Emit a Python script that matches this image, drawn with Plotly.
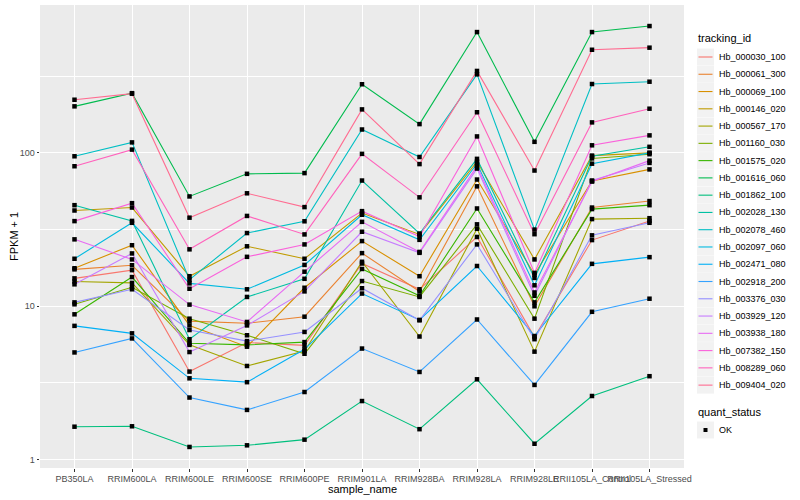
import plotly.graph_objects as go
import numpy as np

samples = ["PB350LA", "RRIM600LA", "RRIM600LE", "RRIM600SE", "RRIM600PE",
           "RRIM901LA", "RRIM928BA", "RRIM928LA", "RRIM928LE",
           "RRII105LA_Control", "RRII105LA_Stressed"]

tracking_ids = ["Hb_000030_100", "Hb_000061_300", "Hb_000069_100", "Hb_000146_020",
                "Hb_000567_170", "Hb_001160_030", "Hb_001575_020", "Hb_001616_060",
                "Hb_001862_100", "Hb_002028_130", "Hb_002078_460", "Hb_002097_060",
                "Hb_002471_080", "Hb_002918_200", "Hb_003376_030", "Hb_003929_120",
                "Hb_003938_180", "Hb_007382_150", "Hb_008289_060", "Hb_009404_020"]

# FPKM + 1 values per gene, in sample order
hb_000030_100 = [15.2, 17.2, 3.75, 5.8, 5.56, 19.0, 12.9, 28.3, 6.3, 27, 36]
hb_000061_300 = [17.4, 18.5, 8.0, 7.75, 8.55, 22.2, 12.5, 60.5, 10.0, 44, 48.5]
hb_000069_100 = [17.7, 25, 7.5, 5.45, 13.2, 26.6, 15.7, 67, 16.1, 65.5, 78]
hb_000146_020 = [42.1, 44, 15.7, 24.6, 20.4, 40.5, 29.4, 87.6, 20.2, 96, 100]
hb_000567_170 = [14.5, 14.2, 5.6, 4.08, 5.1, 19.5, 6.35, 32, 5.06, 37, 37.5]
hb_001160_030 = [10.3, 13.3, 8.3, 6.47, 4.9, 14.6, 11.5, 34.2, 8.3, 92, 98]
hb_001575_020 = [8.86, 15.5, 5.74, 5.6, 5.84, 17.5, 11.7, 43.4, 10.6, 43, 45.6]
hb_001616_060 = [201, 245, 52, 73, 73.8, 280, 154, 613, 118, 613, 671]
hb_001862_100 = [1.64, 1.65, 1.21, 1.24, 1.35, 2.41, 1.58, 3.34, 1.27, 2.6, 3.5]
hb_002028_130 = [45.6, 36, 6.1, 11.5, 15.1, 66, 29.8, 91.4, 15.3, 95, 109.5]
hb_002078_460 = [95, 117, 14.9, 30, 35.8, 142, 94, 325, 31.6, 281, 291]
hb_002097_060 = [20.4, 35, 14.1, 12.9, 18.6, 39.5, 27.1, 85, 13.7, 85, 100]
hb_002471_080 = [7.45, 6.66, 3.39, 3.2, 5.24, 12.1, 8.15, 18.3, 6.4, 18.9, 20.9]
hb_002918_200 = [5.0, 6.17, 2.54, 2.11, 2.76, 5.3, 3.73, 8.2, 3.07, 9.2, 11.2]
hb_003376_030 = [10.6, 12.9, 7.0, 5.93, 6.8, 13.1, 8.1, 25.3, 6.1, 29, 35]
hb_003929_120 = [13.9, 22.1, 5.03, 7.5, 12.5, 30.6, 22.3, 79, 11.7, 66, 86]
hb_003938_180 = [27.3, 20.2, 10.25, 7.9, 16.8, 35.5, 22.6, 82, 12.3, 65, 89]
hb_007382_150 = [35.9, 47, 13.0, 21.0, 25.3, 41.7, 28.5, 128, 16.5, 112, 130]
hb_008289_060 = [81.8, 105, 23.5, 38.8, 29.4, 98.5, 51.3, 184, 29.5, 158, 194]
hb_009404_020 = [222, 243, 37.8, 54.5, 44.3, 192, 84.5, 342, 76.7, 470, 485]

series = [hb_000030_100, hb_000061_300, hb_000069_100, hb_000146_020, hb_000567_170,
          hb_001160_030, hb_001575_020, hb_001616_060, hb_001862_100, hb_002028_130,
          hb_002078_460, hb_002097_060, hb_002471_080, hb_002918_200, hb_003376_030,
          hb_003929_120, hb_003938_180, hb_007382_150, hb_008289_060, hb_009404_020]

colors = ["#F8766D", "#EA8331", "#D89000", "#C09B00", "#A3A500", "#7CAE00", "#39B600",
          "#00BB4E", "#00BF7D", "#00C1A3", "#00BFC4", "#00BAE0", "#00B0F6", "#35A2FF",
          "#9590FF", "#C77CFF", "#E76BF3", "#FA62DB", "#FF62BC", "#FF6C91"]

quant_status = ["OK"]

FONT = "Liberation Sans, Arial, sans-serif"
W, H = 800, 500
L, R, T, B = 40, 116, 5, 32
PW, PH = W - L - R, H - T - B

def px(x):  # pixel x -> paper x
    return (x - L) / PW

def py(y):  # pixel y -> paper y
    return 1 - (y - T) / PH

fig = go.Figure()
for name, vals, col in zip(tracking_ids, series, colors):
    fig.add_trace(go.Scatter(x=samples, y=vals, mode="lines", name=name,
                             line=dict(color=col, width=1.1), showlegend=False))

all_x = [s for _ in series for s in samples]
all_y = [v for vals in series for v in vals]
fig.add_trace(go.Scatter(x=all_x, y=all_y, mode="markers", name=quant_status[0],
                         marker=dict(symbol="square", size=4.5, color="black"),
                         showlegend=False))

lo = np.log10(min(all_y)); hi = np.log10(max(all_y))
pad = (hi - lo) * 0.05

shapes = []
annotations = []
# axis titles
annotations.append(dict(text="sample_name", xref="paper", yref="paper", x=px(362), y=py(489),
                        showarrow=False, font=dict(size=11, color="black"),
                        xanchor="center", yanchor="middle"))
annotations.append(dict(text="FPKM + 1", xref="paper", yref="paper", x=px(14), y=py(237),
                        showarrow=False, textangle=-90, font=dict(size=11, color="black"),
                        xanchor="center", yanchor="middle"))

# legend: tracking_id
annotations.append(dict(text="tracking_id", xref="paper", yref="paper", x=px(696), y=py(38),
                        showarrow=False, font=dict(size=11, color="black"),
                        xanchor="left", yanchor="middle"))
step = 17.27
for i, (name, col) in enumerate(zip(tracking_ids, colors)):
    cy = 57 + i * step
    shapes.append(dict(type="rect", xref="paper", yref="paper",
                       x0=px(697), x1=px(714), y0=py(cy - 8.5), y1=py(cy + 8.5),
                       fillcolor="#F2F2F2", line=dict(width=0), layer="above"))
    shapes.append(dict(type="line", xref="paper", yref="paper",
                       x0=px(698.5), x1=px(712.5), y0=py(cy), y1=py(cy),
                       line=dict(color=col, width=1.1), layer="above"))
    annotations.append(dict(text=name, xref="paper", yref="paper", x=px(717), y=py(cy),
                            showarrow=False, font=dict(size=9, color="black"),
                            xanchor="left", yanchor="middle"))

# legend: quant_status
annotations.append(dict(text="quant_status", xref="paper", yref="paper", x=px(696), y=py(412),
                        showarrow=False, font=dict(size=11, color="black"),
                        xanchor="left", yanchor="middle"))
for j, q in enumerate(quant_status):
    cy = 430 + j * step
    shapes.append(dict(type="rect", xref="paper", yref="paper",
                       x0=px(697), x1=px(714), y0=py(cy - 8.5), y1=py(cy + 8.5),
                       fillcolor="#F2F2F2", line=dict(width=0), layer="above"))
    shapes.append(dict(type="rect", xref="paper", yref="paper",
                       x0=px(703.5), x1=px(707.5), y0=py(cy - 2), y1=py(cy + 2),
                       fillcolor="black", line=dict(width=0), layer="above"))
    annotations.append(dict(text=q, xref="paper", yref="paper", x=px(717), y=py(cy),
                            showarrow=False, font=dict(size=9, color="black"),
                            xanchor="left", yanchor="middle"))

fig.update_layout(
    width=W, height=H,
    margin=dict(l=L, r=R, t=T, b=B, autoexpand=False),
    paper_bgcolor="white", plot_bgcolor="#EBEBEB",
    font=dict(family=FONT, size=9, color="#4D4D4D"),
    showlegend=False,
    xaxis=dict(type="category", categoryorder="array", categoryarray=samples,
               range=[-0.6, len(samples) - 0.4], automargin=False,
               showgrid=True, gridcolor="white", gridwidth=1.1,
               ticks="outside", ticklen=2.5, tickcolor="#333333", tickwidth=1,
               tickfont=dict(size=9, color="#4D4D4D"), tickangle=0,
               zeroline=False, showline=False),
    yaxis=dict(type="log", range=[lo - pad, hi + pad], automargin=False,
               tickvals=[1, 10, 100], ticktext=["1", "10", "100"],
               showgrid=True, gridcolor="white", gridwidth=1.1,
               minor=dict(tickmode="array", tickvals=[10 ** 0.5, 10 ** 1.5, 10 ** 2.5],
                          showgrid=True, gridcolor="white", gridwidth=0.5, ticklen=0),
               ticks="outside", ticklen=2.5, tickcolor="#333333", tickwidth=1,
               tickfont=dict(size=9, color="#4D4D4D"),
               zeroline=False, showline=False),
    shapes=shapes,
    annotations=annotations,
)

fig.write_html("out.html", config={"displayModeBar": False},
               post_script="document.body.style.margin='0';document.body.style.padding='0';")
